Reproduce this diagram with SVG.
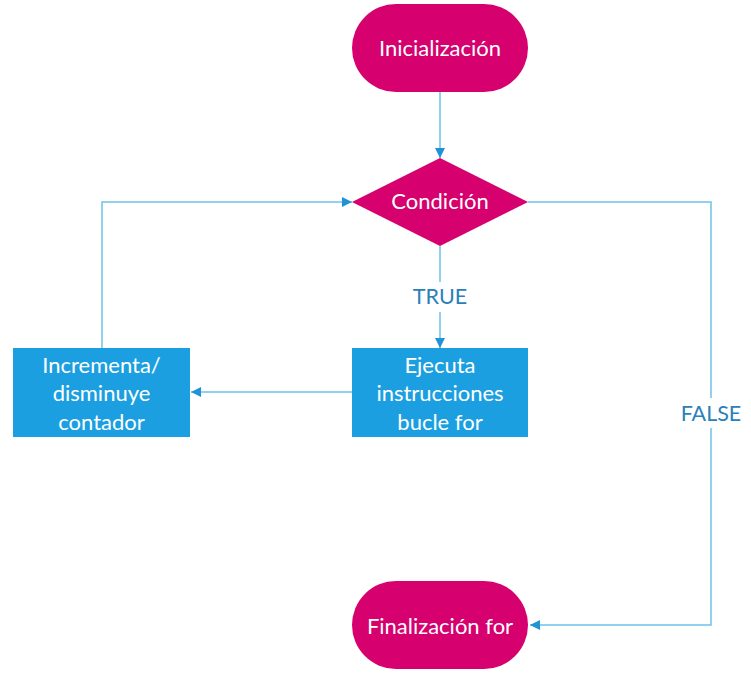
<svg xmlns="http://www.w3.org/2000/svg" width="751" height="675" viewBox="0 0 751 675">
<style>
.term{fill:#D6006E}
.box{fill:#1C9FE0}
.t{font-family:Lato,"Open Sans",sans-serif;font-size:22px;fill:#ffffff;text-anchor:middle}
.lbl{font-family:Lato,"Open Sans",sans-serif;font-size:21.5px;fill:#2A80B9;text-anchor:middle}
.ln{fill:none;stroke:#6EC1EA;stroke-width:1.5}
</style>
<defs>
<marker id="ah" viewBox="0 0 10 10" refX="10" refY="5" markerWidth="10" markerHeight="10" markerUnits="userSpaceOnUse" orient="auto">
<path d="M0,0 L10,5 L0,10 Z" fill="#1E93D6"/>
</marker>
</defs>
<rect width="751" height="675" fill="#ffffff"/>
<g id="connectors">
<path class="ln" d="M440,92 V158" marker-end="url(#ah)"/>
<path class="ln" d="M440,246 V282"/>
<path class="ln" d="M440,312 V348" marker-end="url(#ah)"/>
<path class="ln" d="M352,392 H191" marker-end="url(#ah)"/>
<path class="ln" d="M102,348 V202 H352" marker-end="url(#ah)"/>
<path class="ln" d="M528,202 H711 V398"/>
<path class="ln" d="M711,428 V625 H530" marker-end="url(#ah)"/>
<text class="lbl" x="440" y="304">TRUE</text>
<text class="lbl" x="711" y="421">FALSE</text>
</g>
<g id="inicializacion">
<rect class="term" x="352" y="4" width="176" height="88" rx="44"/>
<text class="t" x="440" y="56">Inicialización</text>
</g>
<g id="condicion">
<polygon class="term" points="440,158 528,202 440,246 352,202"/>
<text class="t" x="440" y="209">Condición</text>
</g>
<g id="ejecuta">
<rect class="box" x="352" y="348" width="176" height="89"/>
<text class="t" x="440" y="373">Ejecuta</text>
<text class="t" x="440" y="401">instrucciones</text>
<text class="t" x="440" y="430">bucle for</text>
</g>
<g id="incrementa">
<rect class="box" x="13" y="348" width="177" height="89"/>
<text class="t" x="101.5" y="373">Incrementa/</text>
<text class="t" x="101.5" y="401">disminuye</text>
<text class="t" x="101.5" y="430">contador</text>
</g>
<g id="finalizacion">
<rect class="term" x="352" y="581" width="176" height="88" rx="44"/>
<text class="t" x="440" y="634">Finalización for</text>
</g>
</svg>
